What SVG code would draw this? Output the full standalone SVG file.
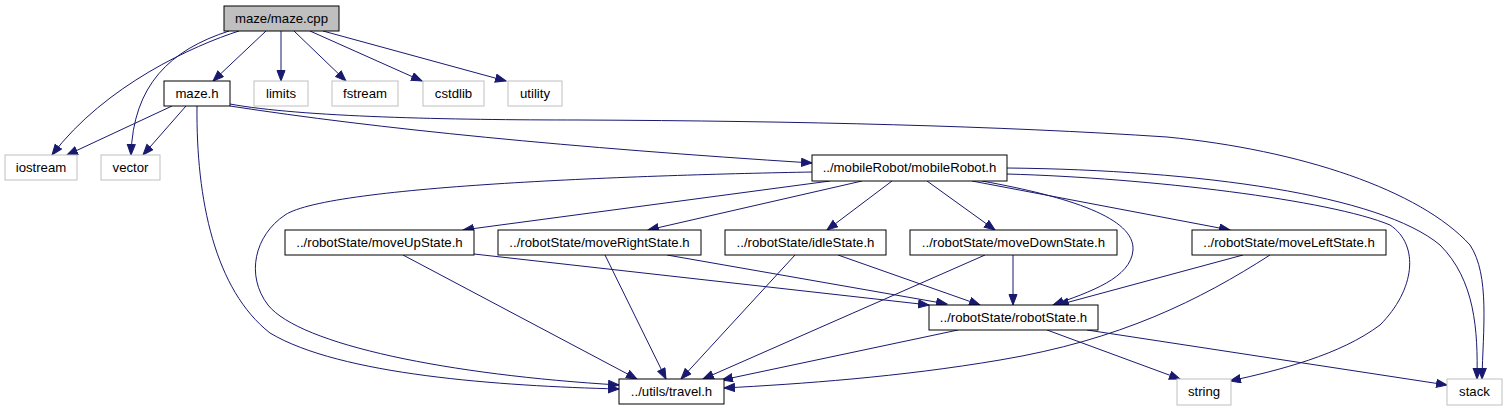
<svg xmlns="http://www.w3.org/2000/svg" width="1507" height="411" viewBox="0 0 1507 411">
<style>
.n rect{fill:#fff;stroke:#000;stroke-width:1}
.g rect{fill:#fff;stroke:#bfbfbf;stroke-width:1}
.root rect{fill:#bfbfbf;stroke:#000;stroke-width:1}
text{font-family:"Liberation Sans",Arial,Helvetica,sans-serif;font-size:13.2px;fill:#000;text-anchor:middle}
#edges path{fill:none;stroke:#191970;stroke-width:1;marker-end:url(#ah)}
</style>
<defs>
<marker id="ah" markerWidth="13" markerHeight="11" refX="11" refY="4.5" orient="auto" markerUnits="userSpaceOnUse">
<path d="M0.5,0.5 L11,4.5 L0.5,8.5 z" fill="#191970" stroke="#191970" stroke-width="1"/>
</marker>
</defs>
<rect width="1507" height="411" fill="#fff"/>
<g id="edges">
<path d="M266,31 L213,81"/>
<path d="M281,31 L281,81"/>
<path d="M294,31 L346,81"/>
<path d="M310,31 L422,81"/>
<path d="M323,31 L506,81"/>
<path d="M239,31 C195,45 105,85 52,155"/>
<path d="M229,31 C170,50 133,85 131,155"/>
<path d="M172,106 L67,155"/>
<path d="M186,106 L143,155"/>
<path d="M197,106 C196,200 215,290 270,333 C340,375 500,386 619,389"/>
<path d="M230,106 Q450,140 812,163"/>
<path d="M230,104 C300,117 450,120 580,120 C800,121 1000,126 1167,137 C1300,150 1420,190 1470,245 C1490,275 1483,330 1482,379"/>
<path d="M812,172 C650,175 330,185 285,215 C255,235 245,275 268,305 C300,345 450,375 619,385"/>
<path d="M830,181 L463,230"/>
<path d="M862,181 L648,230"/>
<path d="M892,181 L827,230"/>
<path d="M927,181 L995,230"/>
<path d="M972,181 L1230,230"/>
<path d="M982,181 C1070,197 1135,218 1133,250 C1131,278 1090,292 1053,305"/>
<path d="M1007,174 C1150,178 1330,200 1390,225 C1420,245 1415,290 1380,325 C1340,355 1280,370 1230,381"/>
<path d="M1007,168 C1200,170 1380,195 1440,245 C1475,280 1478,330 1477,379"/>
<path d="M403,255 L637,379"/>
<path d="M474,254 L929,305"/>
<path d="M605,255 L666,379"/>
<path d="M667,255 L947,304"/>
<path d="M795,255 L681,379"/>
<path d="M838,255 L980,305"/>
<path d="M985,255 L703,379"/>
<path d="M1013,255 L1013,305"/>
<path d="M1243,255 L1058,305"/>
<path d="M1270,255 C1200,300 1120,340 1000,360 C900,377 800,384 724,388"/>
<path d="M958,330 L722,380"/>
<path d="M1047,330 L1180,379"/>
<path d="M1087,330 L1447,385"/>
</g>
<g id="node_maze_cpp" class="root"><rect x="224" y="6" width="115" height="25"/><text x="281.5" y="23">maze/maze.cpp</text></g>
<g id="node_maze_h" class="n"><rect x="164" y="81" width="66" height="25"/><text x="197" y="98">maze.h</text></g>
<g id="node_limits" class="g"><rect x="254" y="81" width="54" height="25"/><text x="281" y="98">limits</text></g>
<g id="node_fstream" class="g"><rect x="332" y="81" width="66" height="25"/><text x="365" y="98">fstream</text></g>
<g id="node_cstdlib" class="g"><rect x="423" y="81" width="61" height="25"/><text x="453.5" y="98">cstdlib</text></g>
<g id="node_utility" class="g"><rect x="508" y="81" width="54" height="25"/><text x="535" y="98">utility</text></g>
<g id="node_iostream" class="g"><rect x="5" y="155" width="72" height="25"/><text x="41" y="172">iostream</text></g>
<g id="node_vector" class="g"><rect x="101" y="155" width="59" height="25"/><text x="130.5" y="172">vector</text></g>
<g id="node_mobileRobot" class="n"><rect x="812" y="155" width="195" height="26"/><text x="909.5" y="172">../mobileRobot/mobileRobot.h</text></g>
<g id="node_moveUp" class="n"><rect x="285" y="230" width="189" height="25"/><text x="379.5" y="247">../robotState/moveUpState.h</text></g>
<g id="node_moveRight" class="n"><rect x="498" y="230" width="203" height="25"/><text x="599.5" y="247">../robotState/moveRightState.h</text></g>
<g id="node_idle" class="n"><rect x="725" y="230" width="161" height="25"/><text x="805.5" y="247">../robotState/idleState.h</text></g>
<g id="node_moveDown" class="n"><rect x="910" y="230" width="207" height="25"/><text x="1013.5" y="247">../robotState/moveDownState.h</text></g>
<g id="node_moveLeft" class="n"><rect x="1192" y="230" width="194" height="25"/><text x="1289" y="247">../robotState/moveLeftState.h</text></g>
<g id="node_robotState" class="n"><rect x="929" y="305" width="169" height="25"/><text x="1013.5" y="322">../robotState/robotState.h</text></g>
<g id="node_travel" class="n"><rect x="619" y="379" width="105" height="25"/><text x="671.5" y="396">../utils/travel.h</text></g>
<g id="node_string" class="g"><rect x="1177" y="379" width="54" height="26"/><text x="1204" y="396">string</text></g>
<g id="node_stack" class="g"><rect x="1447" y="379" width="55" height="26"/><text x="1474.5" y="396">stack</text></g>
</svg>
